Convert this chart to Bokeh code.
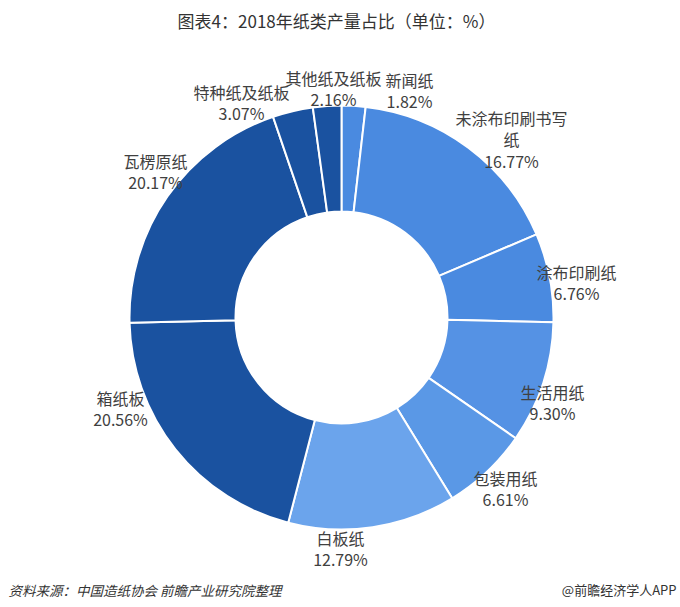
import math
from bokeh.plotting import figure
from bokeh.models import Range1d, ColumnDataSource
from bokeh.core.properties import value
from bokeh.embed import file_html
from bokeh.resources import INLINE

# ---- data ----
categories = ["新闻纸", "未涂布印刷书写纸", "涂布印刷纸", "生活用纸", "包装用纸",
              "白板纸", "箱纸板", "瓦楞原纸", "特种纸及纸板", "其他纸及纸板"]
shares = [1.82, 16.77, 6.76, 9.30, 6.61, 12.79, 20.56, 20.17, 3.07, 2.16]
title_text = "图表4：2018年纸类产量占比（单位：%）"
source_text = "资料来源：中国造纸协会 前瞻产业研究院整理"
brand_text = "@前瞻经济学人APP"

# ---- style / layout ----
W, H = 680, 607
colors = ["#4a8ae0", "#4a8ae0", "#4a8ae0", "#5592e4", "#5a98e6",
          "#6ba4ec", "#1a52a0", "#1a52a0", "#1a52a0", "#1a52a0"]
cx, cy = 341, 317          # pixel centre
r_out, r_in = 212, 106
# label anchor (pixel x, pixel y of first line) and line split
label_pos = [(409, 79), (511, 117), (576, 271), (552, 391), (505, 477),
             (340, 537), (120, 397), (155, 160), (241, 91), (333, 77)]
label_lines = [["新闻纸"], ["未涂布印刷书写", "纸"], ["涂布印刷纸"], ["生活用纸"], ["包装用纸"],
               ["白板纸"], ["箱纸板"], ["瓦楞原纸"], ["特种纸及纸板"], ["其他纸及纸板"]]
line_h = 21.5
FONT = "Noto Sans CJK SC"

def Y(py):
    return H - py

total = sum(shares)
starts, ends = [], []
acc = 0.0
for s in shares:
    starts.append(math.pi / 2 - 2 * math.pi * acc / total)
    acc += s
    ends.append(math.pi / 2 - 2 * math.pi * acc / total)

p = figure(width=W, height=H, output_backend="svg", toolbar_location=None,
           x_range=Range1d(0, W), y_range=Range1d(0, H), min_border=0)
p.axis.visible = False
p.grid.visible = False
p.outline_line_color = None
p.background_fill_color = "white"
p.border_fill_color = "white"

src = ColumnDataSource(dict(start=starts, end=ends, color=colors, cat=categories))
p.annular_wedge(x=cx, y=Y(cy), inner_radius=r_in, outer_radius=r_out,
                start_angle="start", end_angle="end", direction="clock",
                fill_color="color", line_color="white", line_width=2, source=src)

tx, ty, tt = [], [], []
for (px, py), lines, s in zip(label_pos, label_lines, shares):
    for k, ln in enumerate(lines):
        tx.append(px); ty.append(Y(py + k * line_h)); tt.append(ln)
    tx.append(px); ty.append(Y(py + len(lines) * line_h)); tt.append(f"{s:.2f}%")
p.text(x=tx, y=ty, text=tt, text_font=value(FONT), text_font_size="16px",
       text_color="#404040", text_align="center", text_baseline="middle")

p.text(x=[336], y=[Y(20)], text=[title_text], text_font=value(FONT),
       text_font_size="17px", text_color="#333333", text_align="center",
       text_baseline="middle")
p.text(x=[8], y=[Y(589)], text=[source_text], text_font=value(FONT),
       text_font_size="13.5px", text_font_style="italic", text_color="#333333",
       text_align="left", text_baseline="middle")
p.text(x=[676], y=[Y(589)], text=[brand_text], text_font=value(FONT),
       text_font_size="13px", text_color="#333333", text_align="right",
       text_baseline="middle")

open("out.html", "w").write(file_html(p, INLINE))
